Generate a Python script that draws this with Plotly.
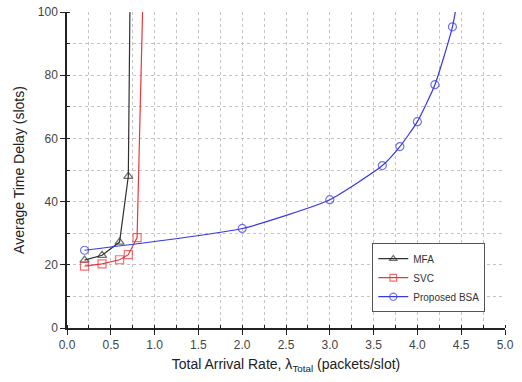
import plotly.graph_objects as go

# Data
mfa_x = [0.2, 0.4, 0.6, 0.7, 0.725]
mfa_y = [21.5, 23.0, 27.2, 48.0, 120.0]
mfa_marked = 4  # number of points with markers

svc_x = [0.2, 0.4, 0.6, 0.7, 0.8, 0.88]
svc_y = [19.6, 20.3, 21.6, 23.2, 28.6, 120.0]
svc_marked = 5

bsa_x = [0.2, 2.0, 3.0, 3.6, 3.8, 4.0, 4.2, 4.4, 4.55]
bsa_y = [24.6, 31.5, 40.6, 51.4, 57.4, 65.3, 77.0, 95.3, 120.0]
bsa_marked = 8

x_ticks = [0.0, 0.5, 1.0, 1.5, 2.0, 2.5, 3.0, 3.5, 4.0, 4.5, 5.0]
y_ticks = [0, 20, 40, 60, 80, 100]

series = [
    ("MFA", mfa_x, mfa_y, mfa_marked, "#303030", "triangle-up-open", "linear"),
    ("SVC", svc_x, svc_y, svc_marked, "#e8383c", "square-open", "linear"),
    ("Proposed BSA", bsa_x, bsa_y, bsa_marked, "#3838e0", "circle-open", "spline"),
]

fig = go.Figure()
for name, xs, ys, nm, color, sym, shape in series:
    sizes = [8] * nm + [0] * (len(xs) - nm)
    fig.add_trace(go.Scatter(
        x=xs, y=ys, name=name, mode="lines+markers",
        line=dict(color=color, width=1.2, shape=shape, smoothing=0.5),
        marker=dict(symbol=sym, size=sizes, color=color, line=dict(width=1.2, color=color)),
        cliponaxis=True,
    ))

fam = "Liberation Sans, Arial, sans-serif"
fig.update_layout(
    width=522, height=382,
    margin=dict(l=67, r=17, t=12, b=54, autoexpand=False),
    paper_bgcolor="white", plot_bgcolor="white",
    font=dict(family=fam, size=12, color="#333333"),
    showlegend=True,
    legend=dict(
        x=0.955, y=0.05, xanchor="right", yanchor="bottom",
        bordercolor="#555555", borderwidth=1, bgcolor="white",
        font=dict(family=fam, size=10, color="#333333"),
        itemwidth=30, tracegroupgap=0,
    ),
    xaxis=dict(
        range=[0, 5], tickvals=x_ticks, ticktext=[f"{v:.1f}" for v in x_ticks],
        automargin=False,
        showline=True, linecolor="#222222", linewidth=1.5,
        ticks="outside", ticklen=5, tickcolor="#222222",
        showgrid=True, gridcolor="#c4c4c4", griddash="dot", gridwidth=1,
        minor=dict(dtick=0.25, ticks="inside", ticklen=3, tickcolor="#222222",
                   showgrid=True, gridcolor="#c4c4c4", griddash="dot"),
        zeroline=False,
        title=dict(text="Total Arrival Rate, λ<sub>Total</sub> (packets/slot)",
                   font=dict(size=14, color="#222222"), standoff=8),
        tickfont=dict(size=12, color="#444444"),
    ),
    yaxis=dict(
        range=[0, 100], tickvals=y_ticks,
        automargin=False,
        showline=True, linecolor="#222222", linewidth=1.5,
        ticks="outside", ticklen=5, tickcolor="#222222",
        showgrid=True, gridcolor="#c4c4c4", griddash="dot", gridwidth=1,
        minor=dict(dtick=10, ticks="inside", ticklen=3, tickcolor="#222222",
                   showgrid=True, gridcolor="#c4c4c4", griddash="dot"),
        zeroline=False,
        title=dict(text="Average Time Delay (slots)",
                   font=dict(size=14, color="#222222"), standoff=10),
        tickfont=dict(size=12, color="#444444"),
    ),
)

fig.write_html("out.html", config={"displayModeBar": False},
               post_script="document.body.style.margin='0';")
